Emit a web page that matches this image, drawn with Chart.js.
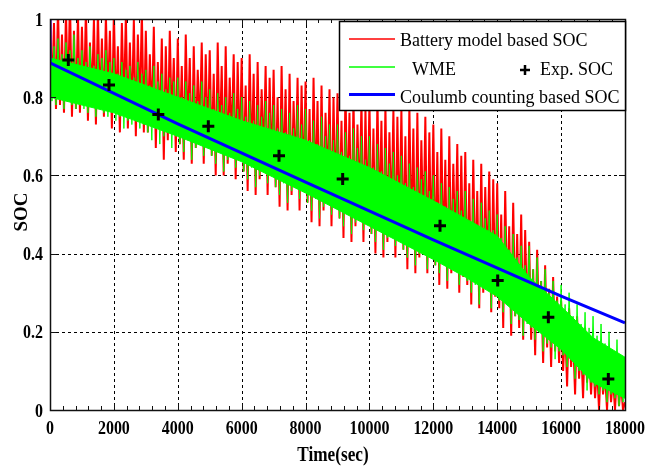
<!DOCTYPE html>
<html>
<head>
<meta charset="utf-8">
<script src="https://cdn.jsdelivr.net/npm/chart.js@4.4.1/dist/chart.umd.min.js"></script>
<style>
    html, body { margin: 0; padding: 0; background: #fff; }
    #soc-chart { display: block; }
</style>
</head>
<body>
<canvas id="soc-chart" width="660" height="466"></canvas>
<script>
// axis ticks
const xTicks = [0, 2000, 4000, 6000, 8000, 10000, 12000, 14000, 16000, 18000];
const yTicks = [0, 0.2, 0.4, 0.6, 0.8, 1];

// battery model / WME estimates, one sample every 62.5 s (16 samples per 1000 s row)
const sampleStep = 62.5;
const batteryModelSoc = [
    1.04, 0.80, 0.99, 0.77, 1.03, 0.78, 0.96, 0.76, 1.02, 0.79, 1.05, 0.75, 0.97, 0.77, 1.01, 0.76,
    0.98, 0.78, 1.03, 0.74, 0.94, 0.80, 1.00, 0.73, 1.02, 0.77, 0.95, 0.75, 1.01, 0.79, 0.97, 0.72,
    1.02, 0.76, 0.93, 0.71, 0.99, 0.77, 1.01, 0.72, 0.94, 0.75, 1.00, 0.70, 0.96, 0.76, 1.02, 0.71,
    0.97, 0.71, 0.91, 0.74, 0.98, 0.67, 0.89, 0.72, 0.95, 0.64, 0.93, 0.69, 0.97, 0.73, 0.90, 0.66,
    0.95, 0.68, 0.88, 0.64, 0.96, 0.70, 0.90, 0.63, 0.93, 0.67, 0.87, 0.71, 0.94, 0.63, 0.91, 0.67,
    0.92, 0.65, 0.86, 0.60, 0.94, 0.67, 0.88, 0.60, 0.93, 0.63, 0.85, 0.68, 0.91, 0.59, 0.89, 0.64,
    0.90, 0.61, 0.83, 0.56, 0.91, 0.63, 0.86, 0.55, 0.89, 0.59, 0.82, 0.64, 0.88, 0.55, 0.85, 0.60,
    0.87, 0.57, 0.80, 0.52, 0.88, 0.59, 0.82, 0.51, 0.86, 0.55, 0.79, 0.60, 0.85, 0.51, 0.83, 0.56,
    0.84, 0.53, 0.77, 0.48, 0.85, 0.55, 0.79, 0.47, 0.83, 0.51, 0.76, 0.56, 0.82, 0.47, 0.80, 0.52,
    0.81, 0.49, 0.74, 0.44, 0.82, 0.51, 0.76, 0.43, 0.80, 0.47, 0.73, 0.52, 0.79, 0.43, 0.77, 0.48,
    0.79, 0.45, 0.72, 0.40, 0.80, 0.47, 0.74, 0.39, 0.78, 0.43, 0.71, 0.48, 0.77, 0.39, 0.75, 0.44,
    0.77, 0.41, 0.70, 0.36, 0.78, 0.43, 0.72, 0.35, 0.76, 0.39, 0.69, 0.44, 0.75, 0.35, 0.71, 0.40,
    0.73, 0.37, 0.66, 0.32, 0.72, 0.39, 0.64, 0.31, 0.70, 0.35, 0.63, 0.40, 0.68, 0.30, 0.65, 0.34,
    0.66, 0.32, 0.58, 0.27, 0.64, 0.34, 0.56, 0.26, 0.63, 0.30, 0.57, 0.35, 0.61, 0.25, 0.59, 0.29,
    0.58, 0.26, 0.50, 0.21, 0.56, 0.28, 0.47, 0.19, 0.53, 0.24, 0.45, 0.21, 0.50, 0.18, 0.46, 0.23,
    0.43, 0.18, 0.36, 0.14, 0.41, 0.20, 0.33, 0.12, 0.37, 0.16, 0.31, 0.11, 0.34, 0.15, 0.29, 0.12,
    0.28, 0.10, 0.22, 0.06, 0.26, 0.11, 0.19, 0.04, 0.24, 0.08, 0.17, 0.03, 0.21, 0.07, 0.16, 0.04,
    0.15, 0.03, 0.11, 0.00, 0.14, 0.04, 0.09, 0.00, 0.12, 0.02, 0.08, 0.00, 0.10, 0.01, 0.07, 0.00,
    0.02
];
const wmeSoc = [
    0.99, 0.79, 0.93, 0.78, 0.95, 0.80, 0.91, 0.77, 0.94, 0.79, 0.92, 0.78, 0.96, 0.77, 0.90, 0.79,
    0.92, 0.77, 0.89, 0.76, 0.93, 0.78, 0.88, 0.75, 0.91, 0.77, 0.90, 0.76, 0.92, 0.75, 0.89, 0.77,
    0.90, 0.74, 0.86, 0.75, 0.89, 0.72, 0.87, 0.74, 0.88, 0.73, 0.85, 0.75, 0.89, 0.72, 0.86, 0.73,
    0.87, 0.71, 0.83, 0.69, 0.88, 0.72, 0.84, 0.68, 0.86, 0.70, 0.82, 0.71, 0.85, 0.67, 0.84, 0.70,
    0.85, 0.68, 0.80, 0.66, 0.84, 0.69, 0.81, 0.64, 0.83, 0.67, 0.79, 0.68, 0.84, 0.65, 0.80, 0.67,
    0.82, 0.65, 0.77, 0.63, 0.81, 0.66, 0.78, 0.61, 0.80, 0.64, 0.76, 0.65, 0.81, 0.62, 0.77, 0.64,
    0.80, 0.61, 0.75, 0.59, 0.79, 0.62, 0.74, 0.57, 0.78, 0.60, 0.75, 0.61, 0.79, 0.58, 0.76, 0.60,
    0.78, 0.57, 0.72, 0.55, 0.77, 0.58, 0.71, 0.53, 0.76, 0.56, 0.72, 0.57, 0.78, 0.54, 0.73, 0.56,
    0.77, 0.53, 0.69, 0.51, 0.74, 0.54, 0.68, 0.49, 0.75, 0.52, 0.70, 0.53, 0.73, 0.50, 0.69, 0.52,
    0.73, 0.49, 0.66, 0.47, 0.71, 0.50, 0.65, 0.45, 0.72, 0.48, 0.67, 0.49, 0.70, 0.46, 0.64, 0.48,
    0.70, 0.45, 0.62, 0.43, 0.68, 0.46, 0.61, 0.41, 0.67, 0.44, 0.63, 0.45, 0.66, 0.42, 0.60, 0.44,
    0.65, 0.41, 0.58, 0.39, 0.63, 0.42, 0.57, 0.37, 0.62, 0.40, 0.59, 0.41, 0.61, 0.36, 0.56, 0.39,
    0.60, 0.37, 0.53, 0.35, 0.58, 0.38, 0.52, 0.33, 0.57, 0.36, 0.54, 0.37, 0.56, 0.32, 0.51, 0.35,
    0.56, 0.33, 0.48, 0.30, 0.54, 0.32, 0.47, 0.27, 0.53, 0.31, 0.49, 0.32, 0.51, 0.26, 0.46, 0.30,
    0.50, 0.28, 0.44, 0.25, 0.47, 0.27, 0.41, 0.22, 0.45, 0.24, 0.39, 0.23, 0.42, 0.19, 0.37, 0.22,
    0.42, 0.21, 0.36, 0.18, 0.39, 0.20, 0.33, 0.15, 0.36, 0.17, 0.30, 0.16, 0.33, 0.13, 0.28, 0.15,
    0.32, 0.14, 0.27, 0.11, 0.30, 0.13, 0.24, 0.08, 0.27, 0.10, 0.22, 0.09, 0.25, 0.05, 0.21, 0.07,
    0.24, 0.06, 0.19, 0.04, 0.22, 0.05, 0.17, 0.02, 0.20, 0.04, 0.15, 0.03, 0.18, 0.01, 0.14, 0.02,
    0.12
];

// dense core of the WME band (upper / lower edge)
const wmeCoreTime = [0, 2000, 4000, 6000, 8000, 10000, 12000, 13000, 14000, 15000, 16000, 17000, 18000];
const wmeCoreTop = [0.90, 0.86, 0.80, 0.74, 0.69, 0.62, 0.535, 0.49, 0.445, 0.34, 0.265, 0.185, 0.135];
const wmeCoreBottom = [0.80, 0.76, 0.70, 0.635, 0.555, 0.47, 0.385, 0.34, 0.29, 0.22, 0.155, 0.07, 0.03];

// coulomb counting
const coulombTime = [0, 0, 4000, 8000, 12000, 16000, 18000];
const coulombSoc = [1, 0.888, 0.732, 0.583, 0.435, 0.291, 0.223];

// experimental SOC
const expTime = [573, 1847, 3391, 4956, 7169, 9162, 12209, 14015, 15600, 17478];
const expSoc = [0.895, 0.831, 0.756, 0.726, 0.650, 0.591, 0.471, 0.331, 0.237, 0.079];

const FONT = '"Liberation Serif", "Times New Roman", serif';

const toPoints = (xs, ys) => ys.map((v, i) => ({ x: xs[i], y: v }));
const sampleTimes = batteryModelSoc.map((_, i) => i * sampleStep);

// narrow bold text like the original figure
function narrowText(ctx, text, x, y, size, squeeze, align) {
    ctx.save();
    ctx.font = 'bold ' + size + 'px ' + FONT;
    ctx.textAlign = align;
    ctx.textBaseline = 'alphabetic';
    ctx.translate(x, y);
    ctx.scale(squeeze, 1);
    ctx.fillText(text, 0, 0);
    ctx.restore();
}

// dashed grid, frame, inward ticks, tick labels, legend and axis titles
const matlabLook = {
    id: 'matlabLook',
    beforeDatasetsDraw(chart) {
        const { ctx, chartArea: a, scales: { x, y } } = chart;
        ctx.save();
        ctx.strokeStyle = '#000';
        ctx.lineWidth = 1;
        ctx.setLineDash([3, 3]);
        ctx.beginPath();
        xTicks.slice(1, -1).forEach(v => {
            const px = Math.round(x.getPixelForValue(v)) + 0.5;
            ctx.moveTo(px, a.top);
            ctx.lineTo(px, a.bottom);
        });
        yTicks.slice(1, -1).forEach(v => {
            const py = Math.round(y.getPixelForValue(v)) + 0.5;
            ctx.moveTo(a.left, py);
            ctx.lineTo(a.right, py);
        });
        ctx.stroke();
        ctx.restore();
    },
    afterDatasetsDraw(chart) {
        const { ctx, chartArea: a, scales: { x, y } } = chart;
        ctx.save();
        ctx.strokeStyle = '#111';
        ctx.lineWidth = 1;
        ctx.beginPath();
        // minor ticks every 400 s on bottom and top
        for (let t = 0; t <= 18000; t += 400) {
            const px = Math.round(x.getPixelForValue(t)) + 0.5;
            const len = t % 2000 === 0 ? 6 : 4;
            ctx.moveTo(px, a.bottom);
            ctx.lineTo(px, a.bottom - len);
            ctx.moveTo(px, a.top);
            ctx.lineTo(px, a.top + len);
        }
        yTicks.forEach(v => {
            const py = Math.round(y.getPixelForValue(v)) + 0.5;
            ctx.moveTo(a.left, py);
            ctx.lineTo(a.left + 6, py);
            ctx.moveTo(a.right, py);
            ctx.lineTo(a.right - 6, py);
        });
        ctx.stroke();
        ctx.lineWidth = 1.5;
        ctx.strokeRect(Math.round(a.left) + 0.5, Math.round(a.top) + 0.5,
            Math.round(a.right - a.left), Math.round(a.bottom - a.top));
        ctx.restore();
    },
    afterDraw(chart) {
        const { ctx, chartArea: a, scales: { x, y } } = chart;
        ctx.save();
        ctx.fillStyle = '#000';

        // tick labels
        xTicks.forEach(v => narrowText(ctx, String(v), x.getPixelForValue(v), 434, 19, 0.84, 'center'));
        yTicks.forEach(v => narrowText(ctx, String(v), 43, y.getPixelForValue(v) + 6.5, 19, 0.84, 'right'));

        // legend box
        const lx = 339, ly = 21, lw = a.right - 339, lh = 89;
        ctx.fillStyle = '#fff';
        ctx.fillRect(lx, ly, lw, lh);
        ctx.strokeStyle = '#000';
        ctx.lineWidth = 1.5;
        ctx.strokeRect(lx + 0.5, ly + 0.5, lw, lh);

        const sample = (yy, color, width) => {
            ctx.strokeStyle = color;
            ctx.lineWidth = width;
            ctx.beginPath();
            ctx.moveTo(349, yy);
            ctx.lineTo(395, yy);
            ctx.stroke();
        };
        sample(39, '#ff0000', 1.5);
        sample(67, '#00ff00', 1.5);
        sample(94.5, '#0000ff', 3);

        ctx.fillStyle = '#000';
        ctx.font = '18px ' + FONT;
        ctx.textAlign = 'left';
        ctx.textBaseline = 'middle';
        ctx.fillText('Battery model based SOC', 400, 41);
        ctx.fillText('WME', 412, 70);
        ctx.fillText('Exp. SOC', 540, 70);
        ctx.fillText('Coulumb counting based SOC', 400, 98);

        // plus marker in legend
        ctx.strokeStyle = '#000';
        ctx.lineWidth = 2.5;
        ctx.beginPath();
        ctx.moveTo(520, 70);
        ctx.lineTo(530, 70);
        ctx.moveTo(525, 65);
        ctx.lineTo(525, 75);
        ctx.stroke();

        // axis titles
        ctx.fillStyle = '#000';
        narrowText(ctx, 'Time(sec)', 333, 461, 20, 0.86, 'center');
        ctx.translate(27, 212);
        ctx.rotate(-Math.PI / 2);
        narrowText(ctx, 'SOC', 0, 0, 19, 1, 'center');
        ctx.restore();
    }
};

const ctx = document.getElementById('soc-chart').getContext('2d');
new Chart(ctx, {
    type: 'line',
    data: {
        datasets: [
            {
                label: 'Exp. SOC',
                data: toPoints(expTime, expSoc),
                showLine: false,
                pointStyle: 'cross',
                pointRadius: 6,
                pointBorderWidth: 3,
                pointBorderColor: '#000',
                borderColor: '#000',
                clip: false
            },
            {
                label: 'Coulumb counting based SOC',
                data: toPoints(coulombTime, coulombSoc),
                borderColor: '#0000ff',
                borderWidth: 3,
                pointRadius: 0,
                clip: 0
            },
            {
                label: 'WME core',
                data: toPoints(wmeCoreTime, wmeCoreTop),
                borderColor: '#00ff00',
                backgroundColor: '#00ff00',
                borderWidth: 1,
                pointRadius: 0,
                fill: '+1',
                clip: 0
            },
            {
                label: 'WME core bottom',
                data: toPoints(wmeCoreTime, wmeCoreBottom),
                borderColor: '#00ff00',
                borderWidth: 1,
                pointRadius: 0,
                clip: 0
            },
            {
                label: 'WME',
                data: toPoints(sampleTimes, wmeSoc),
                borderColor: '#00ff00',
                borderWidth: 1,
                pointRadius: 0,
                clip: 0
            },
            {
                label: 'Battery model based SOC',
                data: toPoints(sampleTimes, batteryModelSoc),
                borderColor: '#ff0000',
                borderWidth: 2,
                pointRadius: 0,
                clip: 0
            }
        ]
    },
    options: {
        responsive: false,
        animation: false,
        devicePixelRatio: 1,
        layout: { padding: { top: 19, right: 35, left: 0, bottom: 0 } },
        elements: { line: { tension: 0 } },
        plugins: {
            legend: { display: false },
            tooltip: { enabled: false }
        },
        scales: {
            x: {
                type: 'linear',
                min: 0,
                max: 18000,
                afterBuildTicks: scale => { scale.ticks = xTicks.map(v => ({ value: v })); },
                afterFit: scale => { scale.height = 56; },
                grid: { display: false, drawTicks: false },
                border: { display: false },
                ticks: { display: false }
            },
            y: {
                type: 'linear',
                min: 0,
                max: 1,
                afterBuildTicks: scale => { scale.ticks = yTicks.map(v => ({ value: v })); },
                afterFit: scale => { scale.width = 50; },
                grid: { display: false, drawTicks: false },
                border: { display: false },
                ticks: { display: false }
            }
        }
    },
    plugins: [matlabLook]
});
</script>
</body>
</html>
